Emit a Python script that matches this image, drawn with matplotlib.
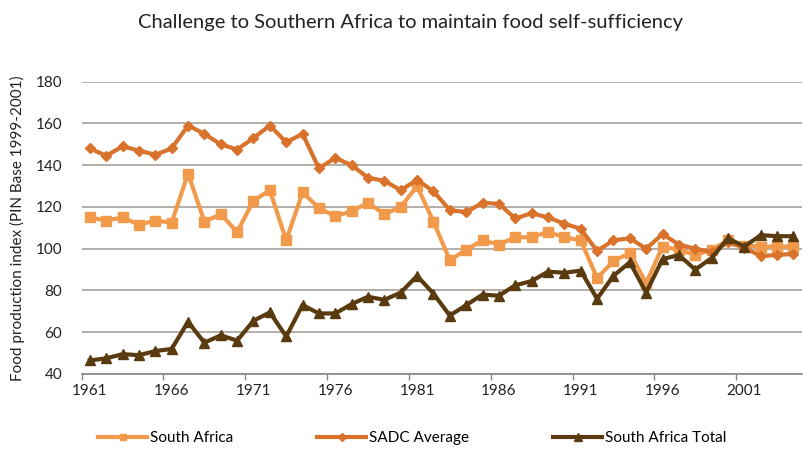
import matplotlib.pyplot as plt

years = list(range(1961, 2005))

south_africa = [115, 113.5, 115, 111.5, 113.5, 112.5, 136, 113, 116.5, 108,
                123, 128, 104, 127, 119.5, 115.5, 118, 122, 116.5, 120,
                130, 113, 94.5, 99.5, 104, 102, 105.5, 105.5, 108, 105.5,
                104, 86, 94, 98, 83.5, 101, 99.5, 97, 99.5, 104,
                101.5, 101, 101, 101]

sadc_average = [148, 144.5, 149, 147, 145, 148, 159, 155, 150, 147.5,
                153, 159, 151, 155, 138.5, 143.5, 140, 134, 132.5, 128,
                133, 127.5, 118.5, 117.5, 122, 121.5, 114.5, 117, 115, 112,
                109.5, 99, 104, 105, 100, 107, 102, 100, 98.5, 103,
                100.5, 96.5, 97, 97.5]

sa_total = [46.5, 47.5, 49.5, 49, 51, 52, 65, 55, 58.5, 56,
            65.5, 69.5, 58, 73, 69, 69, 73.5, 77, 75.5, 79,
            87, 78.5, 68, 73, 78, 77.5, 82.5, 84.5, 89, 88.5,
            89.5, 76, 87, 93.5, 79, 95, 97, 90, 95.5, 105,
            101, 106.5, 106, 106]

label_years = [1961, 1966, 1971, 1976, 1981, 1986, 1991, 1996, 2001]

plt.rcParams["font.family"] = ["Lato", "DejaVu Sans"]

fig = plt.figure(figsize=(8.04, 4.53), dpi=100)
ax = fig.add_axes([0.1016, 0.1744, 0.8954, 0.6453])

ax.plot(years, south_africa, color="#F29A4C", lw=3, marker="s", ms=6.5,
        label="South Africa", zorder=3)
ax.plot(years, sadc_average, color="#D9732C", lw=3, marker="D", ms=5.5,
        label="SADC Average", zorder=4)
ax.plot(years, sa_total, color="#5A3B10", lw=3, marker="^", ms=7.5,
        label="South Africa Total", zorder=5)

ax.set_xlim(1960.5, 2004.5)
ax.set_ylim(40, 180)
ax.set_yticks(range(40, 181, 20))
ax.yaxis.grid(True, color="#A8A19A", lw=1.2)
ax.set_axisbelow(True)

# tick marks sit on category boundaries, labels on the categories
ax.set_xticks([y - 0.5 for y in label_years])
ax.set_xticklabels([])
ax.tick_params(axis="x", which="major", length=4, color="#8A8580", width=1)
ax.set_xticks(label_years, minor=True)
ax.set_xticklabels([str(y) for y in label_years], minor=True, fontsize=11,
                   color="#222222")
ax.tick_params(axis="x", which="minor", length=0, pad=7)
ax.tick_params(axis="y", length=0, labelsize=11, labelcolor="#222222", pad=14)

for s in ["top", "right", "left"]:
    ax.spines[s].set_visible(False)
ax.spines["bottom"].set_color("#8A8580")
ax.spines["bottom"].set_linewidth(1.2)

ax.set_ylabel("Food production index (PIN Base 1999-2001)", fontsize=11,
              color="#222222", labelpad=8)

fig.text(0.511, 0.951, "Challenge to Southern Africa to maintain food self-sufficiency",
         ha="center", va="center", fontsize=14.5, color="#222222")

fig.legend(loc="center", bbox_to_anchor=(0.513, 0.033), ncol=3, frameon=False,
           fontsize=11, handlelength=3.2, handletextpad=0.2, columnspacing=5.5,
           markerscale=0.7)

fig.savefig("out.png", dpi=100, facecolor="white")
